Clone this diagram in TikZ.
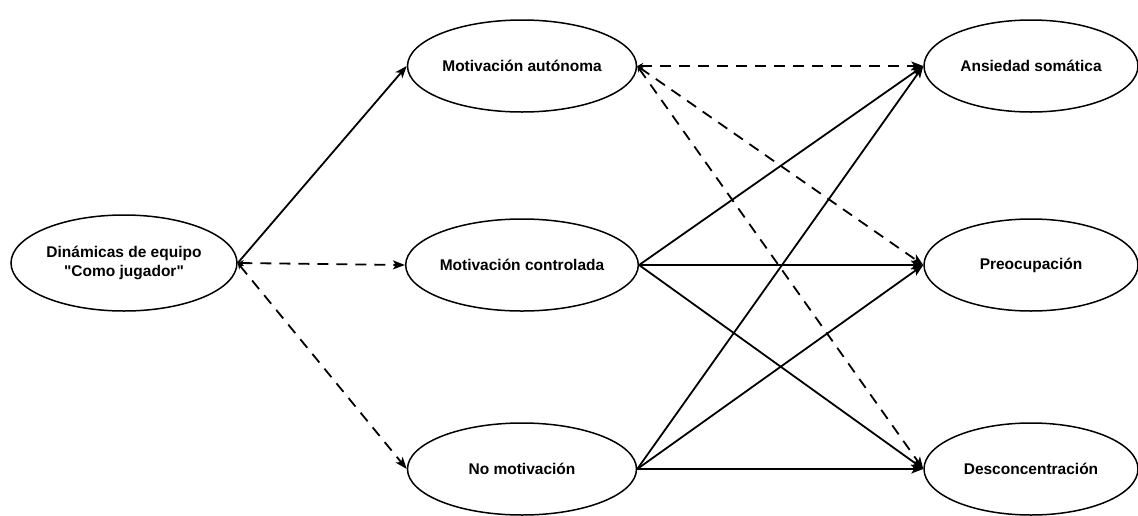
\documentclass[tikz,border=0pt]{standalone}
\usepackage{fontspec}
\setmainfont{Liberation Sans}[Ligatures=TeXOff]
\usetikzlibrary{shapes.geometric,arrows.meta}
\begin{document}
\begin{tikzpicture}[x=1pt,y=1pt,yscale=-1,xscale=1,
    var/.style={draw,ellipse,line width=1.5pt,minimum width=229pt,minimum height=92pt,inner sep=0pt,align=center,font=\fontsize{15.5}{18.5}\selectfont\bfseries},
    efecto/.style={line width=1.8pt,-{Stealth[length=12pt,width=9pt,inset=3pt]}},
    nosig/.style={line width=1.8pt,dash pattern=on 11pt off 8pt,{Stealth[length=6pt,width=6pt,inset=2pt]}-{Stealth[length=12pt,width=9pt,inset=3pt]}}]
    \useasboundingbox (0,0) rectangle (1138,515);

    %Shape: Ellipse [id:predictor]
    \node[var,minimum width=226pt,minimum height=96pt] (dinam) at (124,263) {Dinámicas de equipo\\"Como jugador"};
    %Shape: Ellipse [id:mediadores]
    \node[var] (auto) at (522,66) {Motivación autónoma};
    \node[var] (contr) at (522,265) {Motivación controlada};
    \node[var] (nomot) at (522,469) {No motivación};
    %Shape: Ellipse [id:resultados]
    \node[var,minimum width=214pt] (ansie) at (1031,66) {Ansiedad somática};
    \node[var,minimum width=214pt] (preoc) at (1031,265) {Preocupación};
    \node[var,minimum width=214pt] (desco) at (1031,469) {Desconcentración};

    %Straight Lines [id:predictor-mediadores]
    \draw[efecto] (dinam.east) -- (auto.west);
    \draw[nosig] (dinam.east) -- (contr.west);
    \draw[nosig] (dinam.east) -- (nomot.west);

    %Straight Lines [id:autonoma]
    \draw[nosig] (auto.east) -- (ansie.west);
    \draw[nosig] (auto.east) -- (preoc.west);
    \draw[nosig] (auto.east) -- (desco.west);
    %Straight Lines [id:controlada]
    \draw[efecto] (contr.east) -- (ansie.west);
    \draw[efecto] (contr.east) -- (preoc.west);
    \draw[efecto] (contr.east) -- (desco.west);
    %Straight Lines [id:nomotivacion]
    \draw[efecto] (nomot.east) -- (ansie.west);
    \draw[efecto] (nomot.east) -- (preoc.west);
    \draw[efecto] (nomot.east) -- (desco.west);

\end{tikzpicture}
\end{document}
